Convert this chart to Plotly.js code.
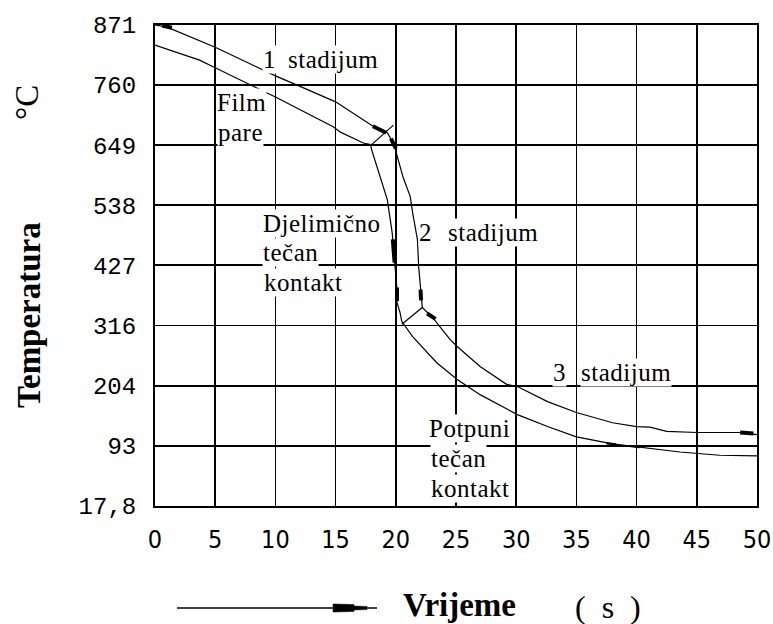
<!DOCTYPE html>
<html>
<head>
<meta charset="utf-8">
<script src="https://cdn.plot.ly/plotly-3.0.1.min.js"></script>
<style>
  html, body { margin: 0; padding: 0; background: #fff; }
  #chart { width: 773px; height: 624px; }
</style>
</head>
<body>
<div id="chart"></div>
<script>
// ---- data ----
const timeTicks = [0, 5, 10, 15, 20, 25, 30, 35, 40, 45, 50];
const tempTickVals = [-17.8, 93, 204, 316, 427, 538, 649, 760, 871];
const tempTickText = ['17,8', '93', '204', '316', '427', '538', '649', '760', '871'];

// upper cooling curve (s, °C)
const upperX = [0, 1.0, 5.0, 10.0, 12.0, 15.0, 18.3, 19.3, 19.5, 19.9, 20.6, 21.2, 21.4, 21.8, 21.9, 22.1, 22.2, 22.8, 23.0, 24.5, 25.1, 27.0, 29.2, 30.1, 32.6, 35.0, 38.0, 40.0, 41.1, 42.5, 45.0, 46.9, 48.6, 50];
const upperY = [871, 867, 830, 777, 758, 729, 681, 672, 664, 646, 590, 554, 524, 474, 424, 376, 349, 336, 332, 290, 277, 240, 207, 203, 175, 155, 136, 129, 128, 120, 118, 118, 118, 114];

// lower cooling curve (s, °C)
const lowerX = [0, 3.7, 5.0, 10.0, 14.8, 15.4, 17.3, 17.9, 18.0, 18.7, 19.3, 19.7, 19.9, 20.1, 20.1, 20.35, 20.5, 20.8, 21.4, 23.4, 25.1, 27.0, 30.1, 32.6, 35.0, 38.0, 40.0, 43.6, 46.9, 50];
const lowerY = [834, 806, 792, 738, 683, 673, 653, 650, 640, 588, 548, 487, 431, 382, 358, 340, 323, 314, 295, 247, 216, 188, 151, 129, 110, 97, 92, 82, 76, 75];

// stage boundary connectors
const connX = [17.95, 19.8, null, 22.2, 20.5];
const connY = [649, 686, null, 349, 318];

// thick arrow marks along the curves
const markX = [0.6, 1.4, null, 18.1, 19.2, null, 19.6, 20.0, null, 22.05, 22.1, null, 22.6, 23.3, null, 19.75, 19.9, null, 20.1, 20.1, null, 48.6, 49.7];
const markY = [870, 866, null, 684, 672, null, 661, 643, null, 382, 362, null, 338, 328, null, 475, 432, null, 386, 361, null, 118, 116];

// slightly heavier dashes on the lower curve
const dashX = [37.5, 38.3, null, 39.5, 40.3];
const dashY = [98, 96, null, 93, 91];

// ---- layout helpers ----
const L = 155, R = 757, T = 25, B = 506;
const W = 773, H = 624;
const px = v => (v - L) / (R - L);
const py = v => (B - v) / (B - T);

const lineStyle = {color: '#000', width: 1.2};
const traces = [
  {x: upperX, y: upperY, mode: 'lines', line: lineStyle, hoverinfo: 'skip', showlegend: false},
  {x: lowerX, y: lowerY, mode: 'lines', line: lineStyle, hoverinfo: 'skip', showlegend: false},
  {x: connX, y: connY, mode: 'lines', line: lineStyle, hoverinfo: 'skip', showlegend: false},
  {x: markX, y: markY, mode: 'lines', line: {color: '#000', width: 4}, hoverinfo: 'skip', showlegend: false},
  {x: dashX, y: dashY, mode: 'lines', line: {color: '#000', width: 2.2}, hoverinfo: 'skip', showlegend: false}
];

const serif = 'Liberation Serif, Times New Roman, serif';
function lab(text, x, y) {
  return {
    text: '<span style="letter-spacing:0.5px">' + text + '</span>',
    x: x, y: y, xref: 'x', yref: 'y', xanchor: 'left', yanchor: 'middle',
    showarrow: false, bgcolor: '#fff', borderpad: 0,
    font: {family: serif, size: 25, color: '#000'}
  };
}

const annotations = [
  lab('1', 8.9, 808),
  lab('stadijum', 10.95, 808),
  lab('Film', 5.07, 727),
  lab('pare', 5.15, 672),
  lab('Djelimično', 8.89, 505),
  lab('tečan', 8.89, 450),
  lab('kontakt', 8.97, 395),
  lab('2', 21.84, 487),
  lab('stadijum', 24.25, 487),
  lab('3', 32.97, 229),
  lab('stadijum', 35.3, 229),
  lab('Potpuni', 22.67, 125),
  lab('tečan', 22.84, 70),
  lab('kontakt', 22.84, 15),
  {
    text: '<b>Temperatura</b>', textangle: -90, showarrow: false,
    xref: 'paper', yref: 'paper', x: px(29), y: py(315), xanchor: 'center', yanchor: 'middle',
    font: {family: serif, size: 33, color: '#000'}
  },
  {
    text: '°C', textangle: -90, showarrow: false,
    xref: 'paper', yref: 'paper', x: px(27), y: py(103), xanchor: 'center', yanchor: 'middle',
    font: {family: serif, size: 33, color: '#000'}
  },
  {
    text: '<b>Vrijeme</b>', showarrow: false,
    xref: 'paper', yref: 'paper', x: px(401), y: py(605), xanchor: 'left', yanchor: 'middle',
    font: {family: serif, size: 33, color: '#000'}
  },
  {
    text: '(  s  )', showarrow: false,
    xref: 'paper', yref: 'paper', x: px(608), y: py(607), xanchor: 'center', yanchor: 'middle',
    font: {family: serif, size: 32, color: '#000'}
  }
];

const shapes = [
  {type: 'line', xref: 'paper', yref: 'paper', x0: px(177), x1: px(377), y0: py(608), y1: py(608),
   line: {color: '#000', width: 1.5}},
  {type: 'path', xref: 'paper', yref: 'paper',
   path: 'M ' + px(333) + ',' + py(604) + ' L ' + px(354) + ',' + py(604.5) + ' L ' + px(354) + ',' + py(606) +
         ' L ' + px(367) + ',' + py(606.5) + ' L ' + px(367) + ',' + py(609.5) + ' L ' + px(354) + ',' + py(610) +
         ' L ' + px(354) + ',' + py(611.5) + ' L ' + px(333) + ',' + py(612) + ' Z',
   fillcolor: '#000', line: {color: '#000', width: 0.5}}
];

const layout = {
  width: W, height: H,
  margin: {l: L, r: W - R, t: T, b: H - B, pad: 0},
  paper_bgcolor: '#fff', plot_bgcolor: '#fff',
  showlegend: false,
  xaxis: {
    range: [0, 50], tickmode: 'array', tickvals: timeTicks, ticktext: timeTicks.map(String),
    showgrid: true, gridcolor: '#000', gridwidth: 1.6, zeroline: false,
    showline: true, linecolor: '#000', linewidth: 2, mirror: true,
    ticks: '', ticklabelstandoff: 10,
    tickfont: {family: 'Liberation Sans Narrow, DejaVu Sans Condensed, Liberation Sans, sans-serif', size: 25, color: '#000'},
    fixedrange: true
  },
  yaxis: {
    range: [-17.8, 871], tickmode: 'array', tickvals: tempTickVals, ticktext: tempTickText,
    showgrid: true, gridcolor: '#000', gridwidth: 1.6, zeroline: false,
    showline: true, linecolor: '#000', linewidth: 2, mirror: true,
    ticks: '', ticklabelstandoff: 12,
    tickfont: {family: 'Liberation Mono, DejaVu Sans Mono, monospace', size: 24, color: '#000'},
    fixedrange: true
  },
  annotations: annotations,
  shapes: shapes
};

Plotly.newPlot('chart', traces, layout, {displayModeBar: false, staticPlot: true});
</script>
</body>
</html>
